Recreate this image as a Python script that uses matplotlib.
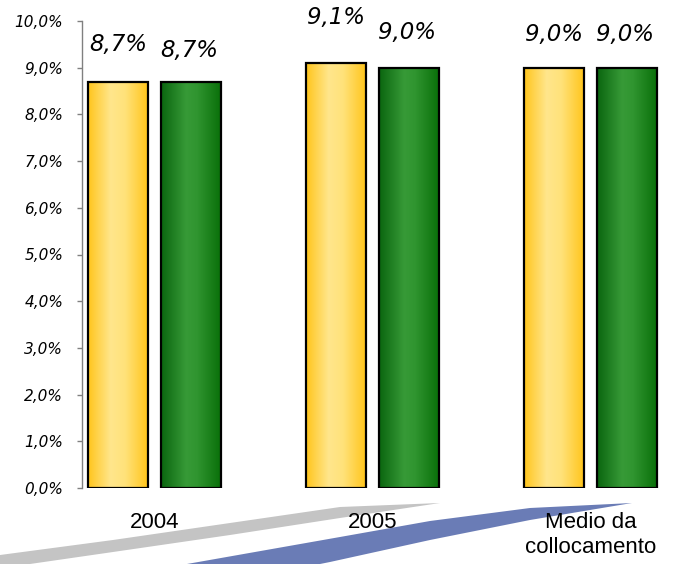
import numpy as np
import matplotlib
matplotlib.use("Agg")
import matplotlib.pyplot as plt
from matplotlib.colors import LinearSegmentedColormap
from matplotlib.patches import Polygon

# dati del grafico
categories = ["2004", "2005", "Medio da\ncollocamento"]
serie_gialla = [8.7, 9.1, 9.0]
serie_verde = [8.7, 9.0, 9.0]
y_ticks = [0, 1, 2, 3, 4, 5, 6, 7, 8, 9, 10]

W, H = 673, 564


def fmt_pct(v):
	"""8.7 -> '8,7%'"""
	return f"{v:.1f}%".replace(".", ",")


def px(points):
	"""pixel (origine in alto a sinistra) -> frazione della figura"""
	return [(x / W, 1 - y / H) for x, y in points]


def gradient_bars(ax, bars, cmap):
	"""riempie ogni barra con un gradiente orizzontale"""
	grad = np.linspace(0, 1, 256).reshape(1, -1)
	for b in bars:
		x0, y0 = b.get_x(), b.get_y()
		im = ax.imshow(grad, cmap=cmap, aspect="auto", zorder=2,
			extent=[x0, x0 + b.get_width(), y0, y0 + b.get_height()])
		im.set_clip_path(b)


fig = plt.figure(figsize=(W / 100, H / 100), dpi=100)

# decorazioni sotto l'asse (bande grigia e blu)
gray = Polygon(px([(0, 555), (113, 540), (230, 523), (340, 507), (440, 503),
	(340, 518), (230, 535), (113, 552), (30, 564), (0, 564)]),
	closed=True, transform=fig.transFigure, facecolor="#c4c4c4",
	edgecolor="none", zorder=-2)
blue = Polygon(px([(187, 564), (340, 537), (430, 521), (530, 508), (632, 503),
	(530, 520), (430, 540), (330, 562), (320, 564)]),
	closed=True, transform=fig.transFigure, facecolor="#6a7cb6",
	edgecolor="none", zorder=-1)
fig.add_artist(gray)
fig.add_artist(blue)

ax = fig.add_axes([82 / W, (H - 488) / H, (665 - 82) / W, 467 / H])
ax.patch.set_alpha(0)

x = np.arange(len(categories))
w = 0.275
off = 0.167

giallo = LinearSegmentedColormap.from_list(
	"giallo", [(0, "#ffc51c"), (0.38, "#ffe68c"), (0.62, "#ffe27a"), (1, "#ffc51c")])
verde = LinearSegmentedColormap.from_list(
	"verde", [(0, "#0a650f"), (0.42, "#379a37"), (0.6, "#309530"), (1, "#0a700a")])

b1 = ax.bar(x - off, serie_gialla, w, facecolor="none", edgecolor="black",
	linewidth=1.6, zorder=3)
b2 = ax.bar(x + off, serie_verde, w, facecolor="none", edgecolor="black",
	linewidth=1.6, zorder=3)
gradient_bars(ax, b1, giallo)
gradient_bars(ax, b2, verde)

ax.set_xlim(-0.333, 2.342)
ax.set_ylim(0, 10)

# etichette dei valori (spostamento in pixel sopra la barra)
off_gialla = [37, 46, 33]
off_verde = [31, 35, 33]
for i in range(len(categories)):
	ax.annotate(fmt_pct(serie_gialla[i]), (x[i] - off, serie_gialla[i]),
		xytext=(0, off_gialla[i] * 0.72), textcoords="offset points",
		ha="center", va="center", fontsize=16.5, style="italic",
		family="DejaVu Sans", zorder=4)
	ax.annotate(fmt_pct(serie_verde[i]), (x[i] + off - 0.01, serie_verde[i]),
		xytext=(0, off_verde[i] * 0.72), textcoords="offset points",
		ha="center", va="center", fontsize=16.5, style="italic",
		family="DejaVu Sans", zorder=4)

ax.set_yticks(y_ticks)
ax.set_yticklabels([fmt_pct(v) for v in y_ticks], fontsize=11, style="italic",
	family="DejaVu Sans")
ax.tick_params(axis="y", length=3.6, width=1, color="#808080", pad=10)

ax.set_xticks(x)
ax.set_xticklabels(categories, fontsize=16, family="Liberation Sans",
	linespacing=1.3, va="top")
ax.tick_params(axis="x", length=0, pad=17)

for s in ["top", "right", "bottom"]:
	ax.spines[s].set_visible(False)
ax.spines["left"].set_color("#808080")
ax.spines["left"].set_linewidth(1)

fig.savefig("out.png", dpi=100)
